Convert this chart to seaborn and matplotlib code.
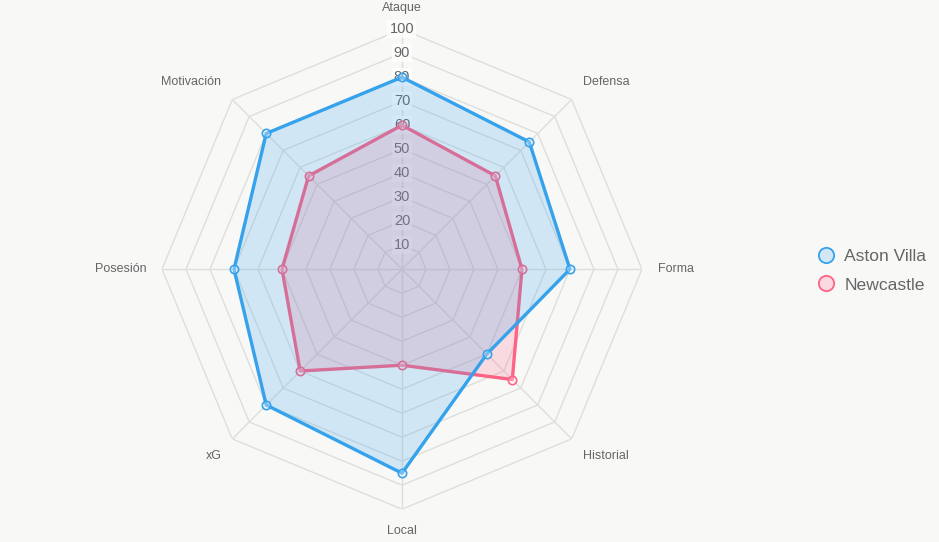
import numpy as np
import seaborn as sns
import matplotlib.pyplot as plt
from matplotlib.lines import Line2D

categories = ['Ataque', 'Defensa', 'Forma', 'Historial', 'Local', 'xG', 'Posesión', 'Motivación']
aston_villa = [80, 75, 70, 50, 85, 80, 70, 80]
newcastle = [60, 55, 50, 65, 40, 60, 50, 55]
ticks = [10, 20, 30, 40, 50, 60, 70, 80, 90, 100]

bg = '#f8f8f7'
blue = '#36a2eb'
pink = '#ff6384'

sns.set_theme(style='white')
plt.rcParams['font.family'] = ['Liberation Sans', 'DejaVu Sans']

fig = plt.figure(figsize=(9.39, 5.42), dpi=100, facecolor=bg)
ax = fig.add_axes([0.1725, 0.0605, 0.5112, 0.8856], projection='polar')
ax.set_facecolor('none')
ax.set_theta_zero_location('N')
ax.set_theta_direction(-1)
ax.set_ylim(0, 100)
ax.grid(False)
ax.set_xticks([])
ax.set_yticks([])
ax.spines['polar'].set_visible(False)

n = len(categories)
angles = np.linspace(0, 2 * np.pi, n, endpoint=False)
closed = np.append(angles, angles[0])

# octagonal grid + spokes
grid_c = '#dededd'
for r in ticks:
    ax.plot(closed, [r] * (n + 1), color=grid_c, lw=1, zorder=1)
for a in angles:
    ax.plot([a, a], [0, 100], color=grid_c, lw=1, zorder=1)

# tick labels with backdrop
for r in ticks:
    ax.text(0, r, str(r), ha='center', va='center', fontsize=10.5, color='#666666', zorder=2,
            bbox=dict(boxstyle='square,pad=0.15', fc=(1, 1, 1, 0.75), ec='none'))

# point labels
for a, lab in zip(angles, categories):
    deg = np.degrees(a)
    if deg in (0, 180):
        ha = 'center'
    elif deg < 180:
        ha = 'left'
    else:
        ha = 'right'
    if deg == 90 or deg == 270:
        va = 'center'
    elif deg < 90 or deg > 270:
        va = 'bottom'
    else:
        va = 'top'
    ax.text(a, 106.5, lab, ha=ha, va=va, fontsize=9, color='#666666')

# datasets (first dataset drawn on top)
for vals, col, z in [(newcastle, pink, 3), (aston_villa, blue, 5)]:
    v = np.append(vals, vals[0])
    ax.fill(closed, v, color=col, alpha=0.2, lw=0, zorder=z)
    ax.plot(closed, v, color=col, lw=2.4, zorder=z + 0.5)
    ax.plot(angles, vals, ls='none', marker='o', ms=6, mfc=(1, 1, 1, 0.3), mec=col, mew=1.2,
            zorder=z + 0.6)

handles = [
    Line2D([], [], ls='none', marker='o', ms=11, mfc='#d2e7f6', mec=blue, mew=1.3),
    Line2D([], [], ls='none', marker='o', ms=11, mfc='#fcd9e0', mec=pink, mew=1.3),
]
leg = fig.legend(handles, ['Aston Villa', 'Newcastle'], loc='center left',
                 bbox_to_anchor=(0.8525, 0.501), frameon=False, fontsize=12.6,
                 handletextpad=0.45, labelspacing=0.78, handlelength=1.15)
for t in leg.get_texts():
    t.set_color('#666666')

fig.savefig('out.png', dpi=100, facecolor=bg)
